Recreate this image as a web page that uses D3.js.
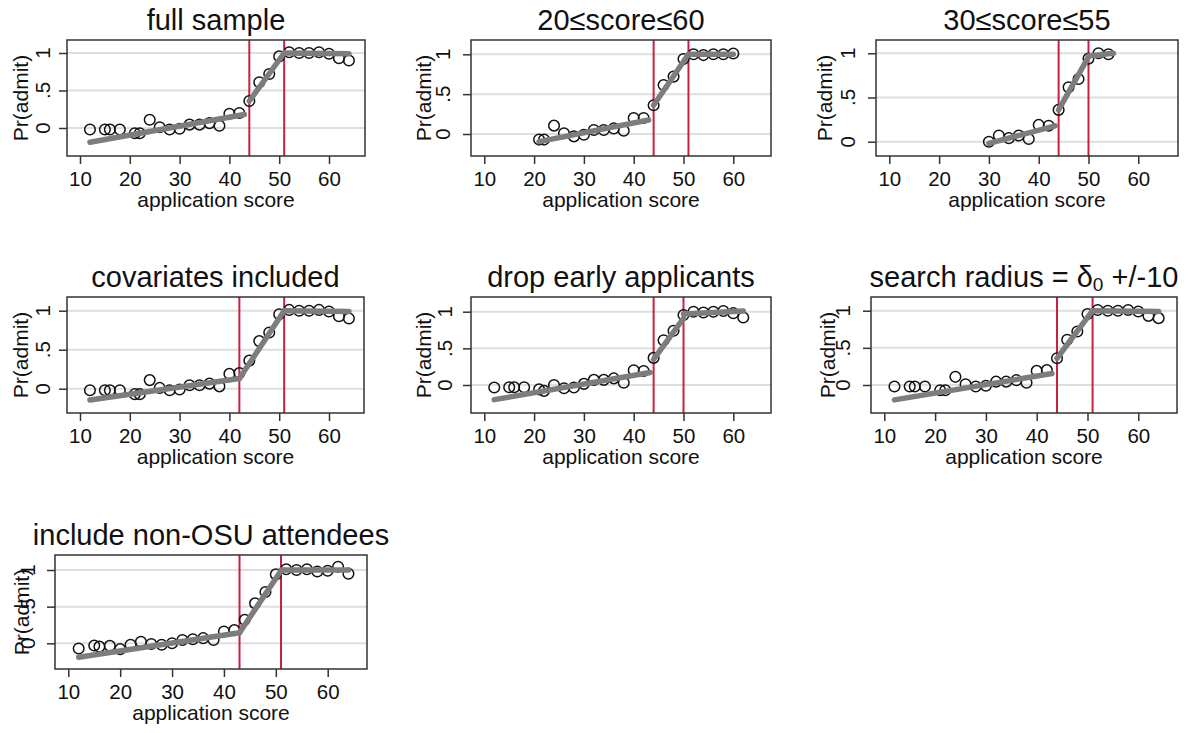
<!DOCTYPE html>
<html><head><meta charset="utf-8">
<script src="https://cdn.jsdelivr.net/npm/d3@7"></script>
<style>
body{margin:0;background:#fff}
svg{display:block}
text{font-family:"Liberation Sans",Arial,sans-serif;fill:#111}
</style>
</head><body>
<svg id="c" width="1190" height="733"></svg>
<script>
// ---------- data ----------
const panelTitles = ["full sample", "20≤score≤60", "30≤score≤55", "covariates included",
  "drop early applicants", "search radius = δ_0 +/-10", "include non-OSU attendees"];
const xTicks = [10, 20, 30, 40, 50, 60];
const yTicks = [0, 0.5, 1];
const yTickLabels = ["0", ".5", "1"];
const xTitle = "application score";
const yTitle = "Pr(admit)";
const cutoffs = [[44, 51], [44, 51], [44, 50], [42, 51], [44, 50], [44, 51], [43, 51]];

const fullScores = [12, 15, 16, 18, 21, 22, 24, 26, 28, 30, 32, 34, 36, 38, 40, 42, 44, 46, 48, 50, 52, 54, 56, 58, 60, 62, 64];
const fullRates  = [-0.02, -0.02, -0.02, -0.02, -0.07, -0.07, 0.11, 0.01, -0.02, -0.01, 0.045, 0.045, 0.065, 0.03, 0.19, 0.2, 0.36, 0.61, 0.72, 0.955, 1.01, 1.0, 1.0, 1.01, 0.99, 0.93, 0.9];
const s2060Scores = [21, 22, 24, 26, 28, 30, 32, 34, 36, 38, 40, 42, 44, 46, 48, 50, 52, 54, 56, 58, 60];
const s2060Rates  = [-0.07, -0.07, 0.105, 0.01, -0.03, -0.01, 0.05, 0.05, 0.07, 0.04, 0.2, 0.2, 0.36, 0.615, 0.72, 0.94, 1.0, 0.99, 1.0, 1.0, 1.01];
const s3055Scores = [30, 32, 34, 36, 38, 40, 42, 44, 46, 48, 50, 52, 54];
const s3055Rates  = [0.0, 0.07, 0.04, 0.07, 0.03, 0.19, 0.18, 0.36, 0.615, 0.71, 0.94, 1.0, 0.99];
const dropScores = [12, 15, 16, 18, 21, 22, 24, 26, 28, 30, 32, 34, 36, 38, 40, 42, 44, 46, 48, 50, 52, 54, 56, 58, 60, 62];
const dropRates  = [-0.035, -0.03, -0.03, -0.03, -0.06, -0.08, 0.0, -0.045, -0.035, 0.015, 0.07, 0.07, 0.09, 0.03, 0.2, 0.19, 0.37, 0.61, 0.74, 0.955, 1.0, 0.99, 1.0, 1.01, 0.98, 0.92];
const osuScores = [12, 15, 16, 18, 20, 22, 24, 26, 28, 30, 32, 34, 36, 38, 40, 42, 44, 46, 48, 50, 52, 54, 56, 58, 60, 62, 64];
const osuRates  = [-0.07, -0.03, -0.045, -0.035, -0.08, -0.02, 0.02, -0.01, -0.02, 0.0, 0.045, 0.055, 0.07, 0.045, 0.16, 0.18, 0.32, 0.545, 0.7, 0.94, 1.01, 1.0, 1.01, 0.98, 0.99, 1.045, 0.95];

// fitted segments: [[x0, y0], [x1, y1]] for each piece
const fitFull  = [[[12, -0.19], [43, 0.18]], [[44, 0.36], [51, 1.0]], [[51, 1.0], [64, 0.99]]];
const fit2060  = [[[21, -0.096], [43, 0.176]], [[44, 0.36], [51, 1.0]], [[51, 1.0], [60, 1.0]]];
const fit3055  = [[[30, -0.02], [43.3, 0.18]], [[44, 0.36], [50, 0.96]], [[50, 0.97], [55, 1.0]]];
const fitCov   = [[[12, -0.145], [42, 0.13]], [[42, 0.13], [51, 1.0]], [[51, 1.0], [64, 0.99]]];
const fitDrop  = [[[12, -0.2], [43.3, 0.17]], [[44, 0.35], [50, 0.91]], [[50, 0.97], [62, 1.01]]];
const fitRad   = [[[12, -0.2], [43, 0.155]], [[44, 0.36], [51, 1.0]], [[51, 1.0], [64, 0.99]]];
const fitOsu   = [[[12, -0.19], [43, 0.145]], [[43, 0.145], [51, 0.99]], [[51, 1.0], [64, 1.0]]];

const panelScores = [fullScores, s2060Scores, s3055Scores, fullScores, dropScores, fullScores, osuScores];
const panelRates  = [fullRates, s2060Rates, s3055Rates, fullRates, dropRates, fullRates, osuRates];
const panelFits   = [fitFull, fit2060, fit3055, fitCov, fitDrop, fitRad, fitOsu];

// ---------- layout (pixels) ----------
const layout = [
  {L: 67,  R: 365,  T: 40,  B: 156, x10: 80,    x60: 329,    y0: 128,   y1: 53,    lab: 17, tit: 39},
  {L: 471, R: 771,  T: 40,  B: 156, x10: 484.3, x60: 733.3,  y0: 134,   y1: 54.3,  lab: 21, tit: 40},
  {L: 876, R: 1178, T: 40,  B: 156, x10: 889.3, x60: 1138.3, y0: 141.7, y1: 53.3,  lab: 21, tit: 44},
  {L: 67,  R: 364,  T: 297, B: 413, x10: 80,    x60: 329,    y0: 388.7, y1: 310.7, lab: 17, tit: 39},
  {L: 471, R: 771,  T: 297, B: 413, x10: 484.3, x60: 733.3,  y0: 385,   y1: 311.7, lab: 19, tit: 40},
  {L: 871, R: 1177, T: 297, B: 413, x10: 884.3, x60: 1138.3, y0: 385,   y1: 310.7, lab: 21, tit: 36},
  {L: 55,  R: 367,  T: 555, B: 669, x10: 68.3,  x60: 327.7,  y0: 643.3, y1: 570,   lab: 20, tit: 26}
];

const svg = d3.select("#c");
const GRID = "#dedede", FRAME = "#333", RED = "#c8203f", FIT = "#7d7d7d";

panelTitles.forEach((title, i) => {
  const lo = layout[i];
  const x = d3.scaleLinear().domain([10, 60]).range([lo.x10, lo.x60]);
  const y = d3.scaleLinear().domain([0, 1]).range([lo.y0, lo.y1]);
  const g = svg.append("g");
  const cx = (lo.L + lo.R) / 2, cy = (lo.T + lo.B) / 2;

  // gridlines
  g.selectAll("line.grid").data(yTicks).join("line")
    .attr("x1", lo.L).attr("x2", lo.R)
    .attr("y1", d => y(d)).attr("y2", d => y(d))
    .attr("stroke", GRID).attr("stroke-width", 2);

  // cutoff lines
  g.selectAll("line.cut").data(cutoffs[i]).join("line")
    .attr("x1", d => x(d)).attr("x2", d => x(d))
    .attr("y1", lo.T).attr("y2", lo.B)
    .attr("stroke", RED).attr("stroke-width", 2);

  // frame
  g.append("rect").attr("x", lo.L).attr("y", lo.T)
    .attr("width", lo.R - lo.L).attr("height", lo.B - lo.T)
    .attr("fill", "none").attr("stroke", FRAME).attr("stroke-width", 1.5);

  // x axis
  const xa = g.append("g").attr("transform", `translate(0,${lo.B})`)
    .call(d3.axisBottom(x).tickValues(xTicks).tickSize(8).tickPadding(7).tickFormat(d3.format("d")));
  xa.select(".domain").remove();
  xa.selectAll(".tick line").attr("stroke", FRAME).attr("stroke-width", 1.5);
  xa.selectAll(".tick text").attr("font-size", 20.5).attr("fill", "#111")
    .attr("font-family", '"Liberation Sans",Arial,sans-serif');

  // y axis ticks
  const ya = g.append("g").attr("transform", `translate(${lo.L},0)`)
    .call(d3.axisLeft(y).tickValues(yTicks).tickSize(8).tickFormat(""));
  ya.select(".domain").remove();
  ya.selectAll(".tick line").attr("stroke", FRAME).attr("stroke-width", 1.5);
  g.selectAll("text.ylab").data(yTicks).join("text")
    .attr("transform", (d) => `translate(${lo.L - lo.lab},${y(d)}) rotate(-90)`)
    .attr("text-anchor", "middle").attr("font-size", 20.5)
    .text((d, k) => yTickLabels[k]);

  // axis titles
  g.append("text").attr("x", cx).attr("y", lo.B + 51)
    .attr("text-anchor", "middle").attr("font-size", 21).text(xTitle);
  g.append("text").attr("transform", `translate(${lo.L - lo.tit},${cy}) rotate(-90)`)
    .attr("text-anchor", "middle").attr("font-size", 21).text(yTitle);

  // panel title
  const t = g.append("text").attr("x", cx).attr("y", lo.T - 10)
    .attr("text-anchor", "middle").attr("font-size", 29);
  const parts = title.split("_0");
  if (parts.length === 2) {
    t.append("tspan").text(parts[0]);
    t.append("tspan").attr("font-size", 19).attr("dy", 4).text("0");
    t.append("tspan").attr("dy", -4).text(parts[1]);
  } else {
    t.text(title);
  }

  // circles
  const pts = panelScores[i].map((s, k) => [s, panelRates[i][k]]);
  g.selectAll("circle").data(pts).join("circle")
    .attr("cx", d => x(d[0])).attr("cy", d => y(d[1])).attr("r", 5.3)
    .attr("fill", "none").attr("stroke", "#111").attr("stroke-width", 1.5);

  // fit lines
  const line = d3.line().x(d => x(d[0])).y(d => y(d[1]));
  g.selectAll("path.fit").data(panelFits[i]).join("path")
    .attr("d", line).attr("fill", "none")
    .attr("stroke", FIT).attr("stroke-width", 5.5).attr("stroke-linecap", "round");
});
</script>
</body></html>
